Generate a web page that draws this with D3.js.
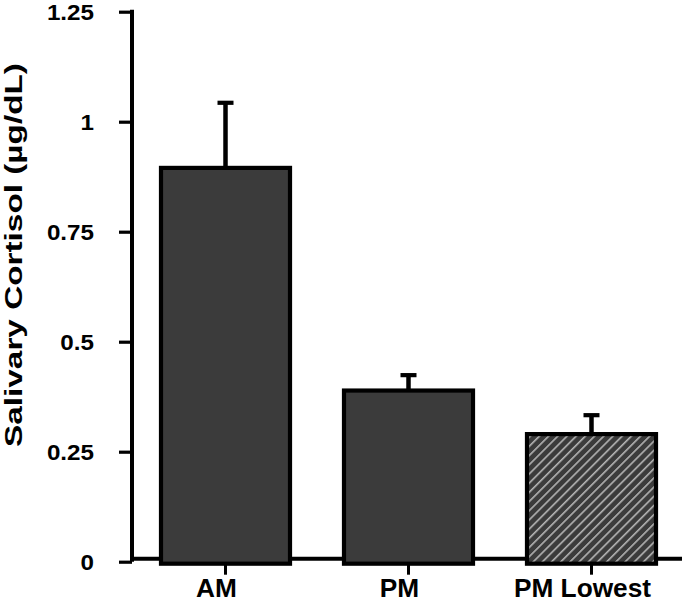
<!DOCTYPE html>
<html>
<head>
<meta charset="utf-8">
<script src="https://cdn.jsdelivr.net/npm/d3@7"></script>
<style>
  html, body { margin: 0; padding: 0; background: #fff; }
  svg { display: block; }
  text { font-family: "Liberation Sans", Arial, Helvetica, sans-serif; font-weight: bold; fill: #000; }
</style>
</head>
<body>
<svg id="chart" width="682" height="604"></svg>
<script>
// ---- data ----
const categories = ["AM", "PM", "PM Lowest"];
const means = [0.895, 0.389, 0.29];
const errors = [0.148, 0.035, 0.043];
const hatched = [false, false, true];
const yTickValues = [0, 0.25, 0.5, 0.75, 1, 1.25];
const yTickLabels = ["0", "0.25", "0.5", "0.75", "1", "1.25"];
const yAxisTitle = "Salivary Cortisol (\u00b5g/dL)";

const svg = d3.select("#chart");

const y = d3.scaleLinear().domain([0, 1.25]).range([561.7, 11.7]);
const x = d3.scaleBand().domain(categories).range([133, 684])
  .paddingInner(0.295).paddingOuter(0.153);

// pattern
const defs = svg.append("defs");
const pat = defs.append("pattern")
  .attr("id", "hatch").attr("patternUnits", "userSpaceOnUse")
  .attr("width", 6.5).attr("height", 6.5)
  .attr("patternTransform", "rotate(45)");
pat.append("rect").attr("width", 6.5).attr("height", 6.5).attr("fill", "#3b3b3b");
pat.append("line").attr("x1", 0).attr("y1", 0).attr("x2", 0).attr("y2", 6.5)
  .attr("stroke", "#b4b4b4").attr("stroke-width", 3.2);

function stretch(sel, factor) {
  sel.each(function () {
    const L = this.getComputedTextLength();
    d3.select(this).attr("textLength", L * factor).attr("lengthAdjust", "spacingAndGlyphs");
  });
}

// x axis line
svg.append("line")
  .attr("x1", 130).attr("x2", 682)
  .attr("y1", y(0) - 3).attr("y2", y(0) - 3)
  .attr("stroke", "#000").attr("stroke-width", 4);

// x ticks
svg.selectAll(".xtick").data(categories).enter().append("line")
  .attr("x1", d => x(d) + x.bandwidth() / 2)
  .attr("x2", d => x(d) + x.bandwidth() / 2)
  .attr("y1", y(0) - 3).attr("y2", y(0) + 13)
  .attr("stroke", "#000").attr("stroke-width", 3);

// x labels
const xl = svg.selectAll(".xlab").data(categories).enter().append("text")
  .attr("x", d => x(d) + x.bandwidth() / 2 - 9)
  .attr("y", 597)
  .attr("text-anchor", "middle")
  .attr("font-size", 25)
  .text(d => d);
stretch(xl, 1.05);

// y axis
const yAxis = d3.axisLeft(y)
  .tickValues(yTickValues)
  .tickFormat((d, i) => yTickLabels[i])
  .tickSize(13).tickSizeOuter(0).tickPadding(25);
const ga = svg.append("g").attr("transform", "translate(132,0)").call(yAxis);
ga.select(".domain").attr("stroke", "#000").attr("stroke-width", 4)
  .attr("d", `M0,${y(1.25) - 2}V${y(0)}`);
ga.selectAll(".tick line").attr("stroke", "#000").attr("stroke-width", 3.2);
const tl = ga.selectAll(".tick text")
  .attr("font-size", 22)
  .attr("font-family", "Liberation Sans, Arial, sans-serif")
  .attr("font-weight", "bold")
  .attr("fill", "#000")
  .attr("dy", "0.36em");
stretch(tl, 1.1);

// bars
const data = categories.map((c, i) => ({ c, v: means[i], e: errors[i], h: hatched[i] }));

// error bars
svg.selectAll(".err").data(data).enter().append("line")
  .attr("x1", d => x(d.c) + x.bandwidth() / 2)
  .attr("x2", d => x(d.c) + x.bandwidth() / 2)
  .attr("y1", d => y(d.v)).attr("y2", d => y(d.v + d.e))
  .attr("stroke", "#000").attr("stroke-width", 4.5);
svg.selectAll(".cap").data(data).enter().append("line")
  .attr("x1", d => x(d.c) + x.bandwidth() / 2 - 8)
  .attr("x2", d => x(d.c) + x.bandwidth() / 2 + 8)
  .attr("y1", d => y(d.v + d.e)).attr("y2", d => y(d.v + d.e))
  .attr("stroke", "#000").attr("stroke-width", 4.2);

svg.selectAll(".bar").data(data).enter().append("rect")
  .attr("x", d => x(d.c))
  .attr("width", x.bandwidth())
  .attr("y", d => y(d.v))
  .attr("height", d => y(0) + 2 - y(d.v))
  .attr("fill", d => d.h ? "url(#hatch)" : "#3b3b3b")
  .attr("stroke", "#000").attr("stroke-width", 4.2);

// y title (horizontally stretched glyphs)
const yt = svg.append("text")
  .attr("text-anchor", "middle")
  .attr("font-size", 23.5)
  .text(yAxisTitle);
const L = yt.node().getComputedTextLength();
yt.attr("transform", `translate(22,255) rotate(-90) scale(${384 / L},1)`);
</script>
</body>
</html>
